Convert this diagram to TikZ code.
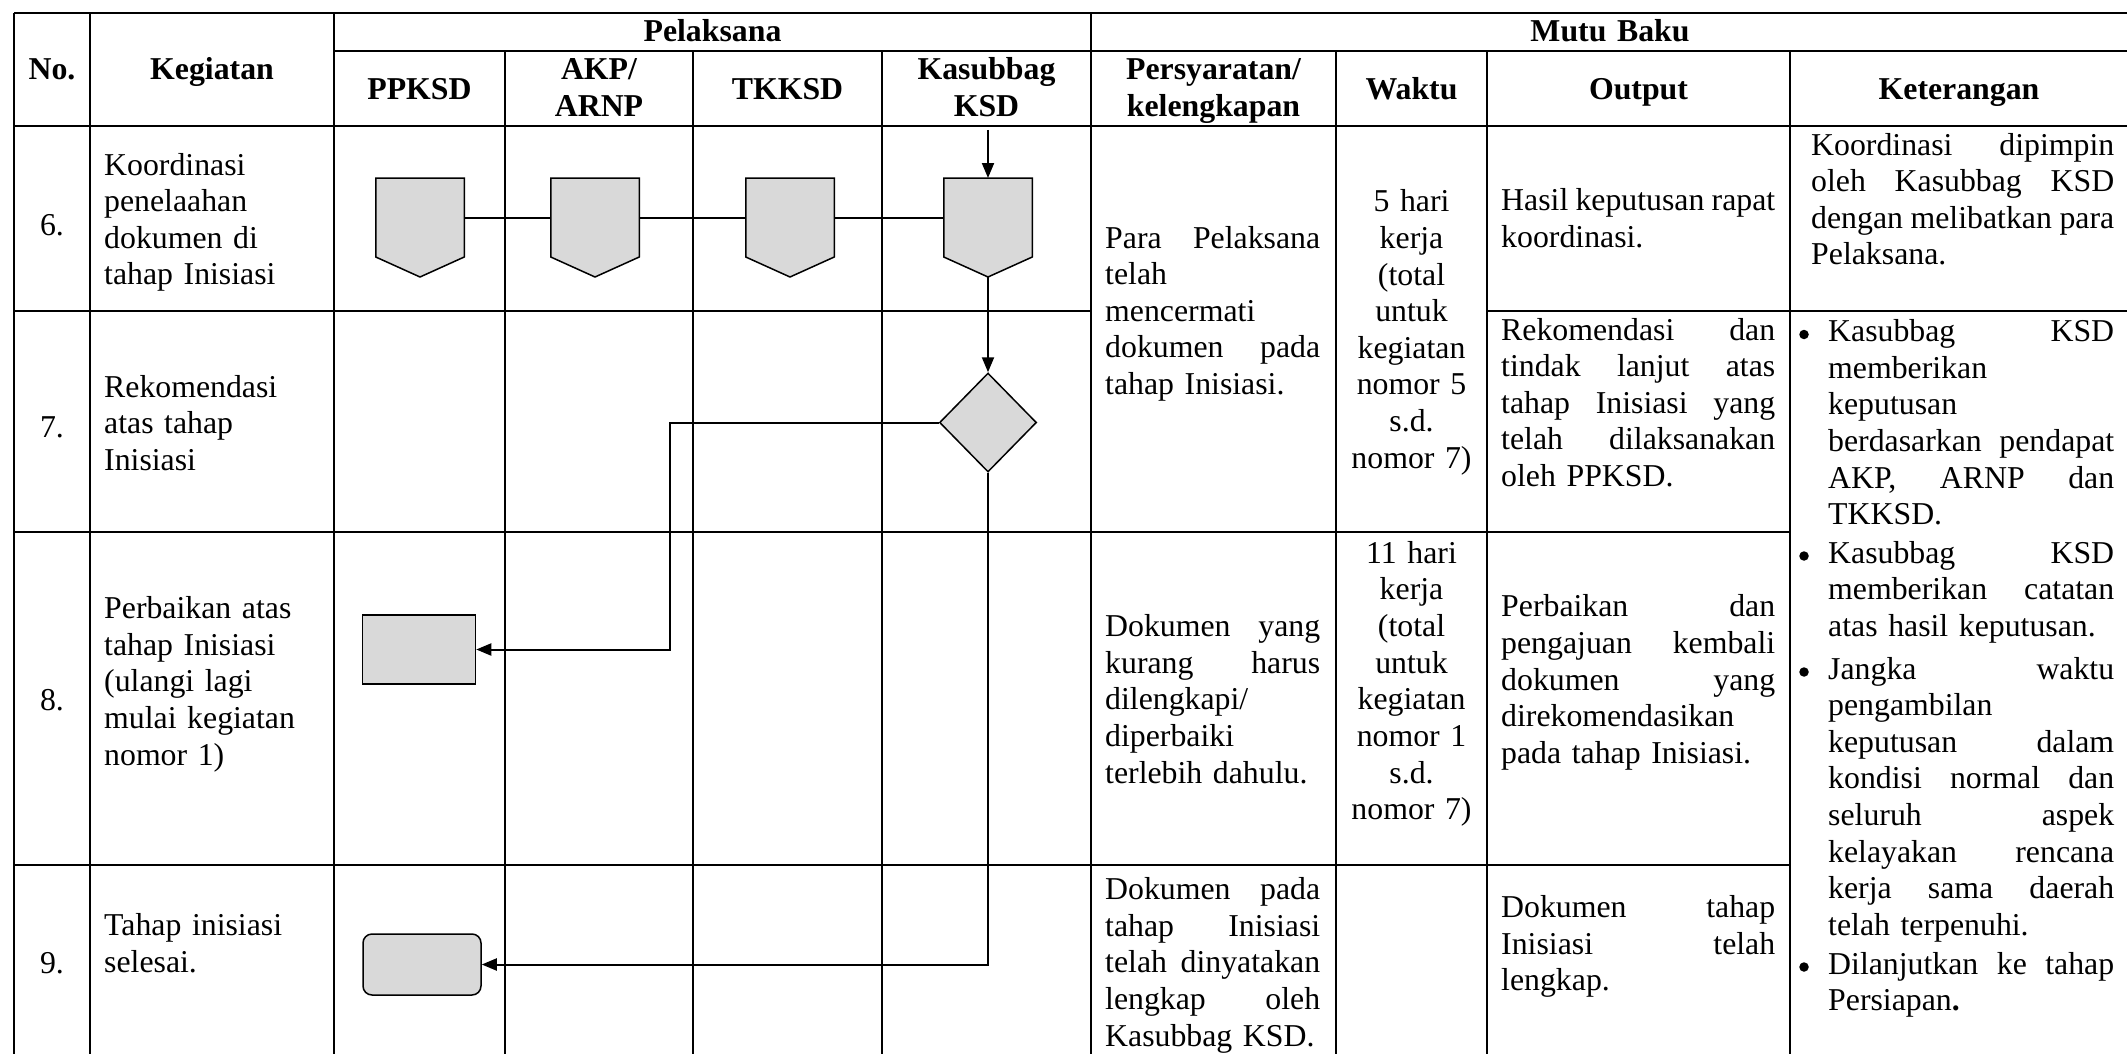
\documentclass[tikz,border=0pt]{standalone}
\usepackage{fontspec}
\setmainfont{Liberation Serif}
\usetikzlibrary{arrows.meta,shapes.geometric}
\newcommand\jline[1]{\noindent\hbox to \hsize{\spaceskip=0.25em plus 1fill minus 0.12em\relax #1}}
\definecolor{shfill}{HTML}{D9D9D9}
\begin{document}
\begin{tikzpicture}[x=1pt,y=-1pt,
  hl/.style={line width=2pt},
  vl/.style={line width=1.7pt},
  bodyf/.style={font=\fontsize{31.8}{36.65}\selectfont},
  tl/.style={bodyf, anchor=base west, inner sep=0pt, align=left, text width=#1},
  tc/.style={bodyf, anchor=base, inner sep=0pt, align=center, text width=#1},
  hd/.style={font=\fontsize{31.8}{36.65}\selectfont\bfseries, anchor=base, inner sep=0pt, align=center, text width=#1},
  shp/.style={draw=black, line width=1.5pt, fill=shfill, line join=miter},
  opbox/.style={minimum width=88.5pt, minimum height=79pt, inner sep=0pt, outer sep=0pt},
  conn/.style={line width=2pt},
  arr/.style={line width=2pt, -{Triangle[length=15pt,width=12pt]}},
  bul/.style={circle, fill=black, inner sep=0pt, minimum size=9.5pt},
]
\useasboundingbox (0,0) rectangle (2127,1054);
\fill[white] (0,0) rectangle (2127,1054);

% table grid
\foreach \x in {14,90,334,1091} \draw[vl] (\x,13) -- (\x,1054);
\foreach \x in {505,693,882,1336,1487,1790} \draw[vl] (\x,51) -- (\x,1054);
\draw[hl] (14,13) -- (2127,13);
\draw[hl] (334,51) -- (2127,51);
\draw[hl] (14,126) -- (2127,126);
\draw[hl] (14,311) -- (1091,311);
\draw[hl] (1487,311) -- (2127,311);
\draw[hl] (14,532) -- (1790,532);
\draw[hl] (14,865) -- (1790,865);

% headers
\node[hd=60pt] (hno) at (52,80) {No.};
\node[hd=220pt] (hkeg) at (212,80) {Kegiatan};
\node[hd=300pt] (hpel) at (712.5,41.7) {Pelaksana};
\node[hd=160pt] (hpp) at (419.5,99.3) {PPKSD};
\node[hd=170pt] (hakp) at (599,80) {AKP/\\ARNP};
\node[hd=170pt] (htk) at (787.5,99.3) {TKKSD};
\node[hd=190pt] (hkas) at (986.5,80) {Kasubbag\\KSD};
\node[hd=400pt] (hmb) at (1610,41.7) {Mutu Baku};
\node[hd=240pt] (hper) at (1213.5,80) {Persyaratan/\\kelengkapan};
\node[hd=140pt] (hwak) at (1411.5,100) {Waktu};
\node[hd=280pt] (hout) at (1638.5,100) {Output};
\node[hd=320pt] (hket) at (1959,100) {Keterangan};

% numbers
\node[tc=60pt] (n6) at (52,235) {6.};
\node[tc=60pt] (n7) at (52,437) {7.};
\node[tc=60pt] (n8) at (52,710.5) {8.};
\node[tc=60pt] (n9) at (52,973) {9.};

% kegiatan
\node[tl=228pt] (k6) at (104,175) {Koordinasi\\ penelaahan\\ dokumen di\\ tahap Inisiasi};
\node[tl=228pt] (k7) at (104,397) {Rekomendasi\\ atas tahap\\ Inisiasi};
\node[tl=228pt] (k8) at (104,618.5) {Perbaikan atas\\ tahap Inisiasi\\ (ulangi lagi\\ mulai kegiatan\\ nomor 1)};
\node[tl=228pt] (k9) at (104,935.5) {Tahap inisiasi\\ selesai.};

% persyaratan
\node[tl=215pt] (p67) at (1105,248) {\jline{Para Pelaksana}\\ telah\\ mencermati\\ \jline{dokumen pada}\\ tahap Inisiasi.};
\node[tl=215pt] (p8) at (1105,636.5) {\jline{Dokumen yang}\\ \jline{kurang harus}\\ dilengkapi/\\ diperbaiki\\ terlebih dahulu.};
\node[tl=215pt] (p9) at (1105,899.5) {\jline{Dokumen pada}\\ \jline{tahap Inisiasi}\\ \jline{telah dinyatakan}\\ \jline{lengkap oleh}\\ Kasubbag KSD.};

% waktu
\node[tc=151pt] (w67) at (1411.5,211.7) {5 hari\\ kerja\\ (total\\ untuk\\ kegiatan\\ nomor 5\\ s.d.\\ nomor 7)};
\node[tc=151pt] (w8) at (1411.5,563.3) {11 hari\\ kerja\\ (total\\ untuk\\ kegiatan\\ nomor 1\\ s.d.\\ nomor 7)};

% output
\node[tl=274pt] (o6) at (1501,210.7) {\jline{Hasil keputusan rapat}\\ koordinasi.};
\node[tl=274pt] (o7) at (1501,340) {\jline{Rekomendasi dan}\\ \jline{tindak lanjut atas}\\ \jline{tahap Inisiasi yang}\\ \jline{telah dilaksanakan}\\ oleh PPKSD.};
\node[tl=274pt] (o8) at (1501,616.7) {\jline{Perbaikan dan}\\ \jline{pengajuan kembali}\\ \jline{dokumen yang}\\ direkomendasikan\\ pada tahap Inisiasi.};
\node[tl=274pt] (o9) at (1501,917.5) {\jline{Dokumen tahap}\\ \jline{Inisiasi telah}\\ lengkap.};

% keterangan
\node[tl=303pt] (kt6) at (1811,155) {\jline{Koordinasi dipimpin}\\ \jline{oleh Kasubbag KSD}\\ \jline{dengan melibatkan para}\\ Pelaksana.};
\node[tl=286pt] (b1) at (1828,341.5) {\jline{Kasubbag KSD}\\ memberikan\\ keputusan\\ \jline{berdasarkan pendapat}\\ \jline{AKP, ARNP dan}\\ TKKSD.};
\node[tl=286pt] (b2) at (1828,563) {\jline{Kasubbag KSD}\\ \jline{memberikan catatan}\\ atas hasil keputusan.};
\node[tl=286pt] (b3) at (1828,679) {\jline{Jangka waktu}\\ pengambilan\\ \jline{keputusan dalam}\\ \jline{kondisi normal dan}\\ \jline{seluruh aspek}\\ \jline{kelayakan rencana}\\ \jline{kerja sama daerah}\\ telah terpenuhi.};
\node[tl=286pt] (b4) at (1828,974) {\jline{Dilanjutkan ke tahap}\\ Persiapan\textbf{.}};
\foreach \b/\yy in {d1/334.5,d2/556,d3/672,d4/967}
  \node[bul] (\b) at (1804,\yy) {};

% flow shapes
\node[opbox] (s1) at (420,217.5) {};
\node[opbox] (s2) at (595,217.5) {};
\node[opbox] (s3) at (790,217.5) {};
\node[opbox] (s4) at (988,217.5) {};
\foreach \n in {s1,s2,s3,s4}
  \draw[shp] (\n.north west) -- (\n.north east) -- (\n.south east) -- ([yshift=-20pt]\n.south) -- (\n.south west) -- cycle;
\coordinate (s4tip) at ([yshift=-20pt]s4.south);
\node[diamond, shp, minimum width=97pt, minimum height=99pt, inner sep=0pt] (d) at (988,422.5) {};
\node[shp, minimum width=113pt, minimum height=69pt, inner sep=0pt] (r8) at (419,649.5) {};
\node[shp, rounded corners=9pt, minimum width=118pt, minimum height=61pt, inner sep=0pt] (r9) at (422,964.5) {};

% connectors
\coordinate (top4) at (988,130);
\draw[arr] (top4) -- (s4.north);
\draw[conn] (s1.east) -- (s2.west);
\draw[conn] (s2.east) -- (s3.west);
\draw[conn] (s3.east) -- (s4.west);
\draw[arr] (s4tip) -- (d.north);
\draw[arr] (d.west) -- ++(-268.5,0) |- (r8.east);
\draw[arr] (d.south) |- (r9.east);
\end{tikzpicture}
\end{document}
